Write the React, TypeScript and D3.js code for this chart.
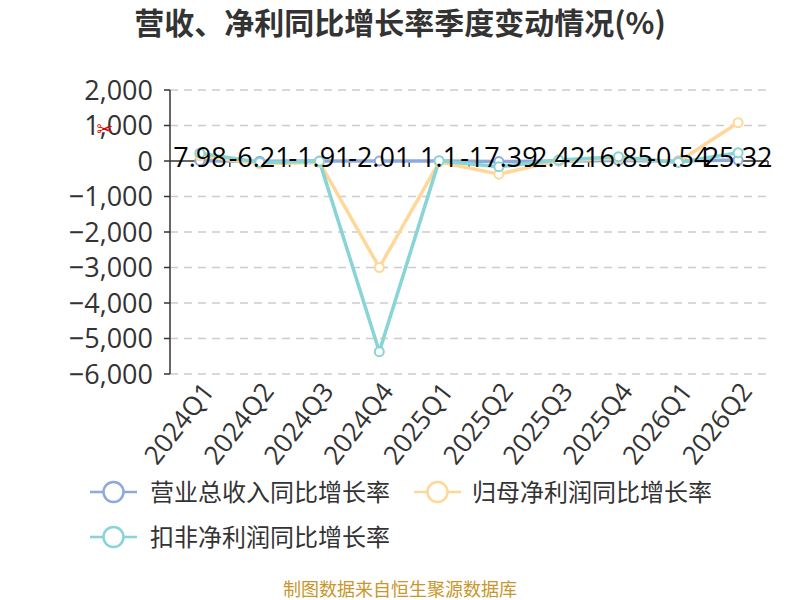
import React from "react";
import * as d3 from "d3";

const categories = ["2024Q1", "2024Q2", "2024Q3", "2024Q4", "2025Q1", "2025Q2", "2025Q3", "2025Q4", "2026Q1", "2026Q2"];
const revenue = [7.98, -6.21, -1.91, -2.01, 1.1, -17.39, 2.42, 16.85, -0.54, 25.32];
const netProfit = [150, -80, -40, -3000, -30, -370, 10, 80, -20, 1080];
const deducted = [220, -40, -10, -5370, 10, -160, 30, 120, -40, 235];
const yTicks = [2000, 1000, 0, -1000, -2000, -3000, -4000, -5000, -6000];
const seriesNames = ["营业总收入同比增长率", "归母净利润同比增长率", "扣非净利润同比增长率"];
const colors = ["#8eaadc", "#ffd899", "#88d4d6"];

const W = 800;
const H = 600;
const FONT = "'Open Sans', 'Noto Sans CJK SC', sans-serif";
const CJK = "'Noto Sans CJK SC', sans-serif";

export default function App() {
  const x = d3.scaleBand<string>().domain(categories).range([170, 768]);
  const y = d3.scaleLinear().domain([-6000, 2000]).range([374, 90]);
  const cx = (c: string) => (x(c) as number) + x.bandwidth() / 2;
  const fmt = d3.format(",");
  const line = d3
    .line<number>()
    .x((_, i) => cx(categories[i]))
    .y((d) => y(d));
  const series = [revenue, netProfit, deducted];
  const y0 = y(0);

  return (
    <svg width={W} height={H} style={{ position: "absolute", left: 0, top: 0, background: "#fff" }}>
      <text x={400} y={34} textAnchor="middle" fontFamily={CJK} fontSize={30} fontWeight="bold" fill="#333">
        营收、净利同比增长率季度变动情况(%)
      </text>

      {yTicks.map((t) => (
        <g key={t}>
          {t !== 0 && (
            <line x1={170} x2={768} y1={y(t)} y2={y(t)} stroke="#cccccc" strokeWidth={1.5} strokeDasharray="8,6" />
          )}
          <line x1={164} x2={170} y1={y(t)} y2={y(t)} stroke="#333" strokeWidth={1.5} />
          <text x={153} y={y(t)} dy="0.36em" textAnchor="end" fontFamily={FONT} fontSize={27} fill="#333">
            {fmt(t)}
          </text>
        </g>
      ))}
      <line x1={170} x2={170} y1={90} y2={374} stroke="#333" strokeWidth={1.5} />

      <line x1={170} x2={768} y1={y0} y2={y0} stroke="#333" strokeWidth={1.5} />
      {categories.map((c) => (
        <line key={c} x1={(x(c) as number) + x.bandwidth()} x2={(x(c) as number) + x.bandwidth()} y1={y0} y2={y0 + 6} stroke="#333" strokeWidth={1.5} />
      ))}

      {categories.map((c) => (
        <text
          key={c}
          transform={`translate(${cx(c) + 8},${386}) rotate(-52)`}
          textAnchor="end"
          dy="0.36em"
          fontFamily={FONT}
          fontSize={26}
          fill="#333"
        >
          {c}
        </text>
      ))}

      {series.map((s, si) => (
        <g key={si}>
          <path d={line(s) || ""} fill="none" stroke={colors[si]} strokeWidth={3.5} strokeLinejoin="round" />
        </g>
      ))}
      {series.map((s, si) => (
        <g key={"m" + si}>
          {s.map((v, i) => (
            <circle key={i} cx={cx(categories[i])} cy={y(v)} r={4.5} fill="#fff" stroke={colors[si]} strokeWidth={2} />
          ))}
        </g>
      ))}

      {revenue.map((v, i) => (
        <text key={i} x={cx(categories[i])} y={167} textAnchor="middle" fontFamily={FONT} fontSize={27} fill="#000">
          {String(v)}
        </text>
      ))}

      <text x={105} y={136} textAnchor="middle" fontFamily="'DejaVu Sans', sans-serif" fontSize={20} fill="#e00000">
        ✂
      </text>

      {[
        { lx: 90, ly: 492, tx: 150 },
        { lx: 414, ly: 492, tx: 472 },
        { lx: 90, ly: 537, tx: 150 },
      ].map((p, i) => (
        <g key={i}>
          <line x1={p.lx} x2={p.lx + 47} y1={p.ly} y2={p.ly} stroke={colors[i]} strokeWidth={2.5} />
          <circle cx={p.lx + 23.5} cy={p.ly} r={10} fill="#fff" stroke={colors[i]} strokeWidth={2.5} />
          <text x={p.tx} y={p.ly} dy="0.36em" fontFamily={CJK} fontSize={24} fill="#333">
            {seriesNames[i]}
          </text>
        </g>
      ))}

      <text x={400} y={596} textAnchor="middle" fontFamily={CJK} fontSize={18} fill="#c9962b">
        制图数据来自恒生聚源数据库
      </text>
    </svg>
  );
}
